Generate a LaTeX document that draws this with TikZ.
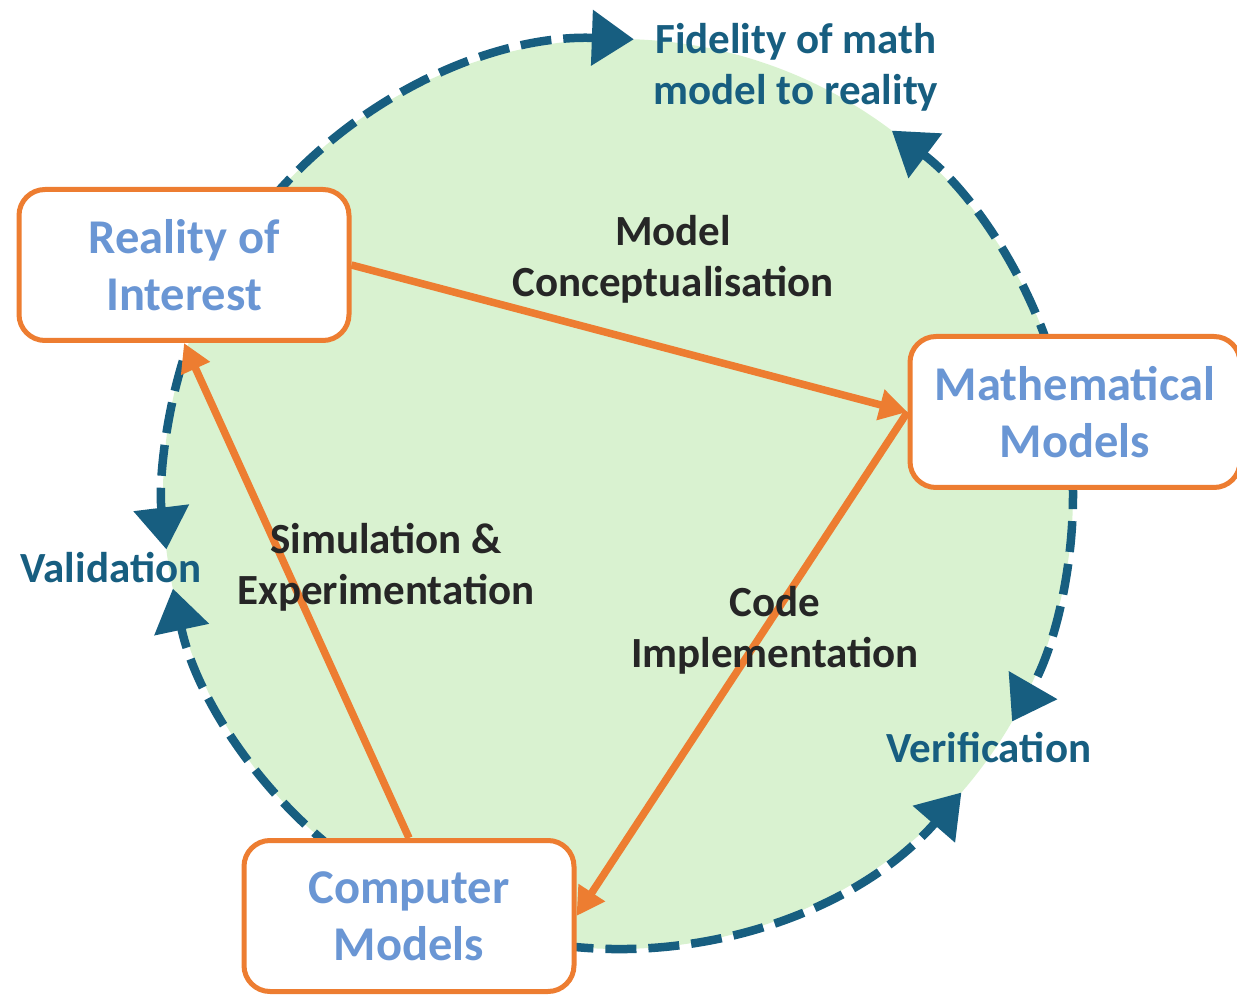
\documentclass[tikz,border=0pt]{standalone}
\usepackage{fontspec}
\setmainfont{Carlito}
\usetikzlibrary{arrows.meta}

\definecolor{cycleorange}{RGB}{237,125,49}
\definecolor{cycleblue}{RGB}{23,94,128}
\definecolor{boxtext}{RGB}{106,150,212}
\definecolor{stagetext}{RGB}{38,38,38}
\definecolor{cyclegreen}{RGB}{217,242,208}

\begin{document}
\begin{tikzpicture}[x=1pt, y=1pt,
  box/.style={draw=cycleorange, line width=5pt, fill=white, rounded corners=26pt,
              minimum width=330pt, minimum height=151pt, align=center,
              text=boxtext, font=\bfseries\fontsize{48.5}{57}\selectfont},
  stage/.style={align=center, text=stagetext, font=\bfseries\fontsize{43}{51}\selectfont},
  check/.style={align=center, text=cycleblue, font=\bfseries\fontsize{43}{51}\selectfont},
  loopline/.style={draw=cycleblue, line width=8.5pt, dash pattern=on 31pt off 12pt,
                   -{Triangle[length=42pt, width=54pt]}},
  link/.style={draw=cycleorange, line width=7.5pt, -{Triangle[length=28pt, width=30pt]}}]
  \useasboundingbox (0,0) rectangle (1237,994);

  % green disc and the dashed feedback arcs on its rim
  \coordinate (c) at (618,500);
  \fill[cyclegreen] (c) circle[radius=455];
  \draw[loopline] ([shift={(c)}]140:455) arc[start angle=140, end angle=88, radius=455];
  \draw[loopline] ([shift={(c)}]18:455)  arc[start angle=18,  end angle=53, radius=455];
  \draw[loopline] ([shift={(c)}]2:455)   arc[start angle=2,   end angle=-30, radius=455];
  \draw[loopline] ([shift={(c)}]-97:455) arc[start angle=-97, end angle=-41, radius=455];
  \draw[loopline] ([shift={(c)}]163:455) arc[start angle=163, end angle=187, radius=455];
  \draw[loopline] ([shift={(c)}]232:455) arc[start angle=232, end angle=192, radius=455];

  \node (reality)  [box] at (184,729)  {Reality of\\Interest};
  \node (math)     [box] at (1075,582) {Mathematical\\Models};
  \node (computer) [box] at (409,78)   {Computer\\Models};

  \draw[link] (reality.east)   -- (math.west);
  \draw[link] (math.west)      -- (computer.east);
  \draw[link] (computer.north) -- (reality.south);

  \node (concept)    [stage] at (673,735) {Model\\Conceptualisation};
  \node (simulation) [stage] at (386,427) {Simulation \&\\Experimentation};
  \node (code)       [stage] at (775,364) {Code\\Implementation};

  \node (fidelity)     [check] at (796,927) {Fidelity of math\\model to reality};
  \node (validation)   [check] at (111,426) {Validation};
  \node (verification) [check] at (989,246) {Verification};
\end{tikzpicture}
\end{document}
